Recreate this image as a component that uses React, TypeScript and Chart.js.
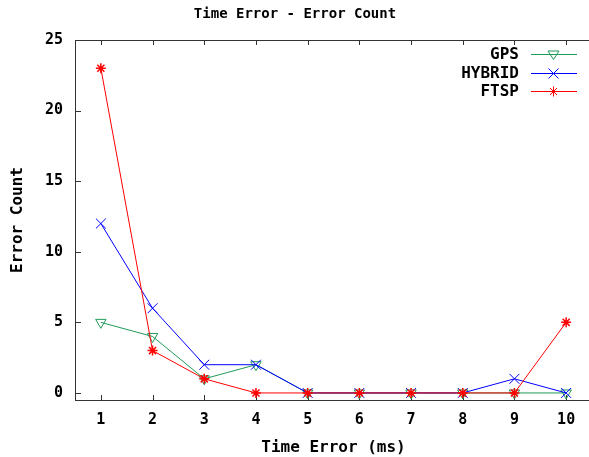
import React, { useEffect, useRef } from 'react';
import { Chart, registerables } from 'chart.js';

Chart.register(...registerables);

const categories = ['1', '2', '3', '4', '5', '6', '7', '8', '9', '10'];
const gpsValues = [5, 4, 1, 2, 0, 0, 0, 0, 0, 0];
const hybridValues = [12, 6, 2, 2, 0, 0, 0, 0, 1, 0];
const ftspValues = [23, 3, 1, 0, 0, 0, 0, 0, 0, 5];
const yTickValues = [0, 5, 10, 15, 20, 25];
const seriesNames = ['GPS', 'HYBRID', 'FTSP'];
const titleText = 'Time Error - Error Count';
const xTitleText = 'Time Error (ms)';
const yTitleText = 'Error Count';

const GREEN = '#1f9a58';
const BLUE = '#0000ff';
const RED = '#ff0000';
const FONT_FAMILY = '"DejaVu Sans Mono", "Liberation Mono", monospace';

function drawMarker(ctx: CanvasRenderingContext2D, kind: string, x: number, y: number) {
  ctx.beginPath();
  if (kind === 'tri') {
    ctx.moveTo(x - 5.5, y - 3.5);
    ctx.lineTo(x + 5.5, y - 3.5);
    ctx.lineTo(x, y + 5);
    ctx.closePath();
  } else if (kind === 'x') {
    ctx.moveTo(x - 5, y - 5);
    ctx.lineTo(x + 5, y + 5);
    ctx.moveTo(x + 5, y - 5);
    ctx.lineTo(x - 5, y + 5);
  } else {
    ctx.moveTo(x - 5, y);
    ctx.lineTo(x + 5, y);
    ctx.moveTo(x, y - 5);
    ctx.lineTo(x, y + 5);
    ctx.moveTo(x - 3.5, y - 3.5);
    ctx.lineTo(x + 3.5, y + 3.5);
    ctx.moveTo(x + 3.5, y - 3.5);
    ctx.lineTo(x - 3.5, y + 3.5);
  }
  ctx.stroke();
}

const framePlugin = {
  id: 'gnuframe',
  beforeDatasetsDraw(chart: any) {
    const { ctx, chartArea } = chart;
    const { left, right, top, bottom } = chartArea;
    const xs = chart.scales.x;
    const ys = chart.scales.y;
    ctx.save();
    ctx.strokeStyle = '#333333';
    ctx.lineWidth = 1;
    ctx.strokeRect(Math.round(left) + 0.5, Math.round(top) + 0.5, Math.round(right - left), Math.round(bottom - top));
    ctx.beginPath();
    categories.forEach((_c, i) => {
      const px = Math.round(xs.getPixelForValue(i)) + 0.5;
      ctx.moveTo(px, bottom);
      ctx.lineTo(px, bottom - 5);
      ctx.moveTo(px, top);
      ctx.lineTo(px, top + 5);
    });
    yTickValues.forEach((v) => {
      const py = Math.round(ys.getPixelForValue(v)) + 0.5;
      ctx.moveTo(left, py);
      ctx.lineTo(left + 6, py);
    });
    ctx.stroke();
    ctx.restore();
  },
  afterDraw(chart: any) {
    const { ctx } = chart;
    ctx.save();
    ctx.fillStyle = '#000';
    ctx.font = 'bold 14px ' + FONT_FAMILY;
    ctx.textAlign = 'center';
    ctx.textBaseline = 'middle';
    ctx.fillText(titleText, 295, 14);

    const kinds = ['tri', 'x', 'star'];
    const colors = [GREEN, BLUE, RED];
    const rowY = [54, 72.5, 91];
    ctx.font = 'bold 16px ' + FONT_FAMILY;
    ctx.textAlign = 'right';
    seriesNames.forEach((name, i) => {
      const y = Math.round(rowY[i]) + 0.5;
      ctx.fillStyle = '#000';
      ctx.fillText(name, 519, y);
      ctx.strokeStyle = colors[i];
      ctx.lineWidth = 1;
      ctx.beginPath();
      ctx.moveTo(531, y);
      ctx.lineTo(577, y);
      ctx.stroke();
      drawMarker(ctx, kinds[i], 553.5, y);
    });
    ctx.restore();
  },
};

export default function App() {
  const canvasRef = useRef<HTMLCanvasElement | null>(null);

  useEffect(() => {
    const canvas = canvasRef.current;
    if (!canvas) return;
    const tickFont = { family: FONT_FAMILY, size: 15, weight: 'bold' as const, lineHeight: 1.2 };
    const titleFont = { family: FONT_FAMILY, size: 16, weight: 'bold' as const, lineHeight: 1.2 };
    const chart = new Chart(canvas, {
      type: 'line',
      data: {
        labels: categories,
        datasets: [
          {
            label: seriesNames[0],
            data: gpsValues,
            borderColor: GREEN,
            backgroundColor: 'rgba(0,0,0,0)',
            borderWidth: 1,
            pointStyle: 'triangle',
            rotation: 180,
            pointRadius: 6,
            pointBorderWidth: 1,
            pointBorderColor: GREEN,
            pointBackgroundColor: 'rgba(0,0,0,0)',
            tension: 0,
            order: 2,
          },
          {
            label: seriesNames[1],
            data: hybridValues,
            borderColor: BLUE,
            backgroundColor: 'rgba(0,0,0,0)',
            borderWidth: 1,
            pointStyle: 'crossRot',
            pointRadius: 7,
            pointBorderWidth: 1,
            pointBorderColor: BLUE,
            tension: 0,
            order: 1,
          },
          {
            label: seriesNames[2],
            data: ftspValues,
            borderColor: RED,
            backgroundColor: 'rgba(0,0,0,0)',
            borderWidth: 1,
            pointStyle: 'star',
            pointRadius: 5,
            pointBorderWidth: 1.5,
            pointBorderColor: RED,
            tension: 0,
            order: 0,
          },
        ],
      },
      options: {
        animation: false,
        responsive: false,
        devicePixelRatio: 1,
        layout: { padding: { left: 0, right: 6, top: 40, bottom: 0 } },
        plugins: {
          legend: { display: false },
          tooltip: { enabled: false },
          title: { display: false },
        },
        scales: {
          x: {
            type: 'category',
            offset: true,
            grid: { display: false, drawTicks: false },
            border: { display: false },
            ticks: { font: tickFont, color: '#000', padding: 11, maxRotation: 0, autoSkip: false },
            title: {
              display: true,
              text: xTitleText,
              color: '#000',
              font: titleFont,
              padding: { top: 0.5, bottom: 0 },
            },
            afterFit: (s: any) => {
              s.height = 57;
            },
          },
          y: {
            type: 'linear',
            min: -0.5,
            max: 25,
            grid: { display: false, drawTicks: false },
            border: { display: false },
            ticks: { font: tickFont, color: '#000', padding: 12 },
            afterBuildTicks: (s: any) => {
              s.ticks = yTickValues.map((v) => ({ value: v }));
            },
            title: {
              display: true,
              text: yTitleText,
              color: '#000',
              font: titleFont,
              padding: { top: 8, bottom: 0 },
            },
            afterFit: (s: any) => {
              s.width = 75;
            },
          },
        },
      },
      plugins: [framePlugin],
    });
    return () => chart.destroy();
  }, []);

  return (
    <div style={{ position: 'fixed', left: 0, top: 0, width: 589, height: 457, overflow: 'hidden', background: '#fff' }}>
      <canvas ref={canvasRef} width={600} height={457} style={{ display: 'block', width: 600, height: 457 }} />
    </div>
  );
}
